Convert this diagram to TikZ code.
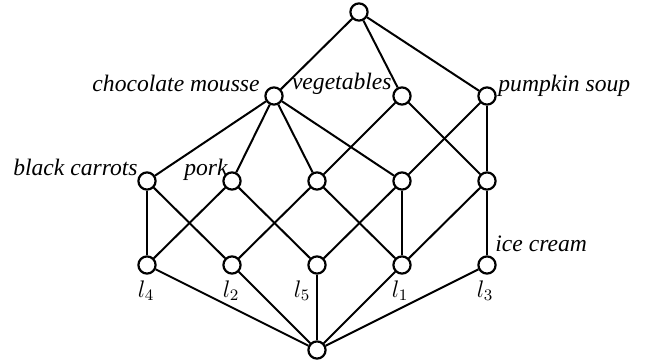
\documentclass[tikz,border=0pt]{standalone}
\usepackage{fontspec}
\setmainfont{Liberation Serif}
\begin{document}
\begin{tikzpicture}[x=0.5pt,y=-0.5pt,
  vert/.style={circle,draw,fill=white,line width=1.1pt,inner sep=0pt,minimum size=8.6pt},
  edge/.style={line width=1pt},
  lab/.style={font=\fontsize{11.8}{14}\selectfont\itshape,inner sep=0pt},
  mlab/.style={font=\fontsize{11.8}{14}\selectfont,inner sep=0pt}]
\useasboundingbox (0,0) rectangle (656,363);
\node[vert] (top) at (359,12) {};
\node[vert] (cm) at (274,96) {};
\node[vert] (veg) at (402,96) {};
\node[vert] (ps) at (487,96) {};
\node[vert] (a) at (147,181) {};
\node[vert] (b) at (232,181) {};
\node[vert] (c) at (317,181) {};
\node[vert] (d) at (402,181) {};
\node[vert] (e) at (487,181) {};
\node[vert] (l4) at (147,265) {};
\node[vert] (l2) at (232,265) {};
\node[vert] (l5) at (317,265) {};
\node[vert] (l1) at (402,265) {};
\node[vert] (l3) at (487,265) {};
\node[vert] (bot) at (317,350) {};
\foreach \u/\v in {top/cm,top/veg,top/ps,cm/a,cm/b,cm/c,cm/d,veg/c,veg/e,ps/d,ps/e,
  a/l4,a/l2,b/l4,b/l5,c/l2,c/l1,d/l5,d/l1,e/l1,e/l3,
  l4/bot,l2/bot,l5/bot,l1/bot,l3/bot}
  \draw[edge] (\u) -- (\v);
\node[lab,anchor=base east] (tcm) at (260,92) {chocolate mousse};
\node[lab,anchor=base east] (tveg) at (392,90) {vegetables};
\node[lab,anchor=base west] (tps) at (498,92) {pumpkin soup};
\node[lab,anchor=base east] (tbc) at (138,175) {black carrots};
\node[lab,anchor=base east] (tpk) at (228,175) {pork};
\node[lab,anchor=base west] (tic) at (495,251) {ice cream};
\node[mlab,anchor=base] (tl4) at (146,297) {$l_4$};
\node[mlab,anchor=base] (tl2) at (231,297) {$l_2$};
\node[mlab,anchor=base] (tl5) at (302,297) {$l_5$};
\node[mlab,anchor=base] (tl1) at (400,297) {$l_1$};
\node[mlab,anchor=base] (tl3) at (485,297) {$l_3$};
\end{tikzpicture}
\end{document}
